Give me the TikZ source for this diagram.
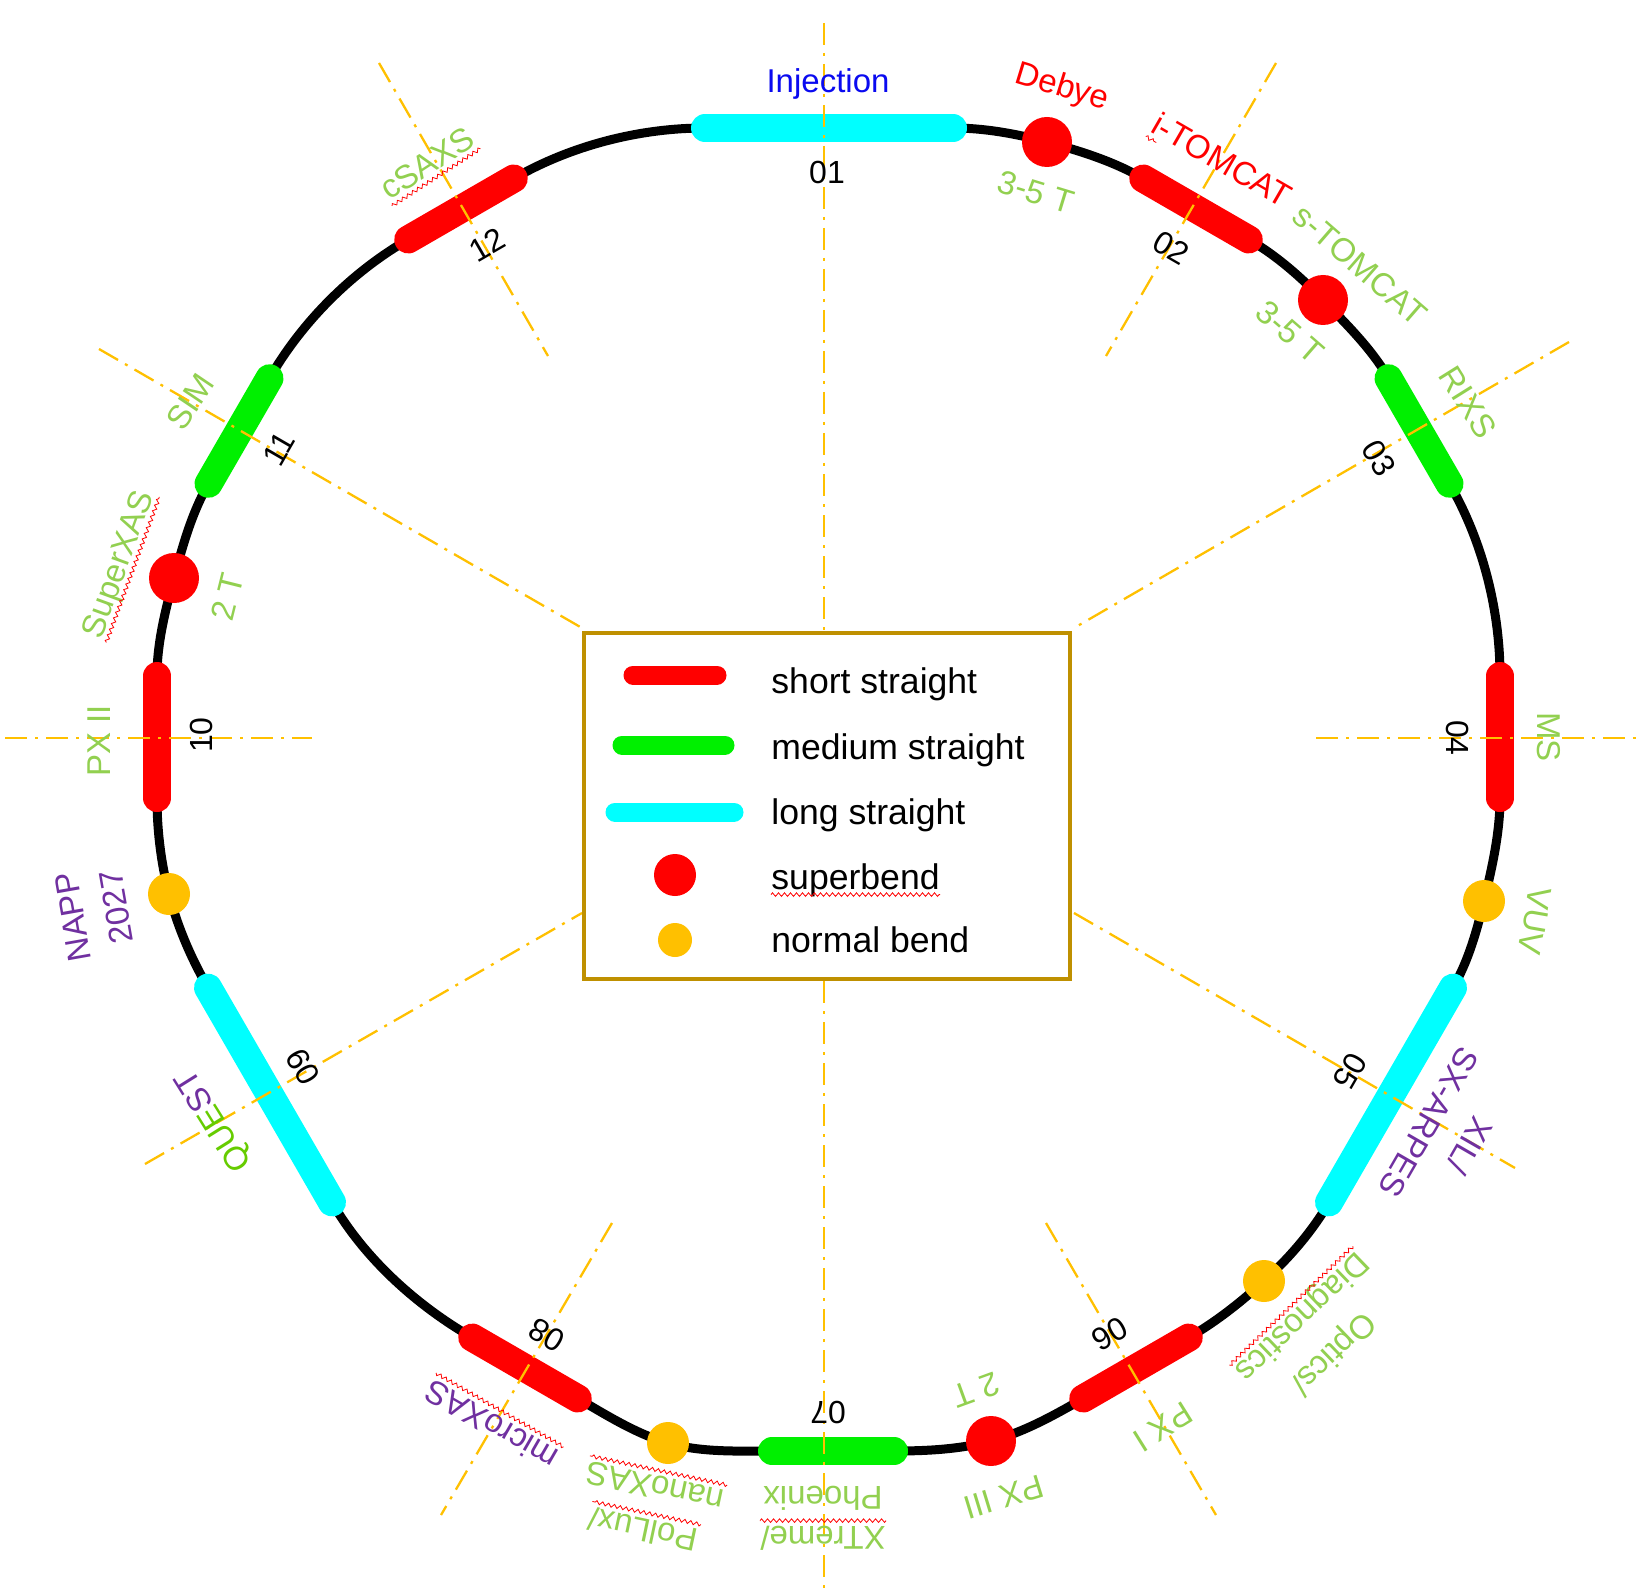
\documentclass[tikz,border=0pt]{standalone}
\usepackage{fontspec}
\setmainfont{Liberation Sans}
\usetikzlibrary{calc,decorations.pathmorphing}
\definecolor{lgreen}{RGB}{146,208,80}
\definecolor{purp}{RGB}{112,48,160}
\definecolor{qgreen}{RGB}{102,204,0}
\definecolor{goldc}{RGB}{255,192,0}
\definecolor{dgold}{RGB}{191,144,0}
\definecolor{cyanc}{RGB}{0,255,255}
\definecolor{greenc}{RGB}{0,240,0}
\definecolor{injblue}{RGB}{10,10,240}
\newcommand\sqg[1]{\draw[squig] ($(#1.base west)!2.8pt!-90:(#1.base east)$) -- ($(#1.base east)!2.8pt!90:(#1.base west)$);}
\begin{document}
\begin{tikzpicture}[x=0.5pt,y=0.5pt,
  ring/.style={line width=4.5pt,black},
  sstr/.style={line width=14pt,line cap=round,red},
  mstr/.style={line width=14pt,line cap=round,greenc},
  lstr/.style={line width=14pt,line cap=round,cyanc},
  sbend/.style={circle,fill=red,inner sep=0pt,minimum size=25pt},
  nbend/.style={circle,fill=goldc,inner sep=0pt,minimum size=21pt},
  axisline/.style={goldc,line width=1.15pt,dash pattern=on 11pt off 4pt on 1.5pt off 4pt},
  lab/.style={inner sep=0pt,font=\fontsize{16.5}{20}\selectfont},
  num/.style={inner sep=0pt,font=\fontsize{16}{19}\selectfont},
  legtxt/.style={inner sep=0pt,anchor=base west,font=\fontsize{17.8}{21}\selectfont},
  squig/.style={red,line width=0.4pt,decorate,decoration={zigzag,amplitude=0.9pt,segment length=3pt}},
  looseness=0.85]
\useasboundingbox (0,0) rectangle (1642,-1588);
\fill[white] (0,0) rectangle (1642,-1588);
% straight section end points
\coordinate (B01) at (705,-128);     \coordinate (E01) at (953,-128);
\coordinate (B02) at (1143.2,-178.5); \coordinate (E02) at (1248.8,-239.5);
\coordinate (B03) at (1388.5,-378.2); \coordinate (E03) at (1449.5,-483.8);
\coordinate (B04) at (1500,-676);    \coordinate (E04) at (1500,-798);
\coordinate (B05) at (1453,-987.6);  \coordinate (E05) at (1329,-1202.4);
\coordinate (B06) at (1188.8,-1337.5); \coordinate (E06) at (1083.2,-1398.5);
\coordinate (B07) at (894,-1451);    \coordinate (E07) at (772,-1451);
\coordinate (B08) at (577.8,-1398.5); \coordinate (E08) at (472.2,-1337.5);
\coordinate (B09) at (332,-1202.4);  \coordinate (E09) at (208,-987.6);
\coordinate (B10) at (157,-798);     \coordinate (E10) at (157,-676);
\coordinate (B11) at (208.5,-483.8); \coordinate (E11) at (269.5,-378.2);
\coordinate (B12) at (408.2,-239.5); \coordinate (E12) at (513.8,-178.5);
% bend positions
\coordinate (d1) at (1047,-142);
\coordinate (d2) at (1323,-300);
\coordinate (d3) at (1484,-901);
\coordinate (d4) at (1264,-1281);
\coordinate (d5) at (991,-1441);
\coordinate (d6) at (668,-1443);
\coordinate (d7) at (169,-894);
\coordinate (d8) at (174,-578);
% ring
\draw[ring] (B01) -- (E01) to[out=0,in=165] (d1) to[out=-15,in=150] (B02) -- (E02)
 to[out=-30,in=134] (d2) to[out=-46,in=120] (B03) -- (E03)
 to[out=-60,in=90] (B04) -- (E04)
 to[out=-90,in=76.5] (d3) to[out=-103.5,in=60] (B05) -- (E05)
 to[out=-120,in=42.5] (d4) to[out=-137.5,in=30] (B06) -- (E06)
 to[out=-150,in=15] (d5) to[out=-165,in=0] (B07) -- (E07)
 to[out=180,in=-16] (d6) to[out=164,in=-30] (B08) -- (E08)
 to[out=150,in=-60] (B09) -- (E09)
 to[out=120,in=-75.5] (d7) to[out=104.5,in=-90] (B10) -- (E10)
 to[out=90,in=-105] (d8) to[out=75,in=-120] (B11) -- (E11)
 to[out=60,in=-150] (B12) -- (E12)
 to[out=30,in=180] (B01) -- cycle;
% straights
\draw[lstr] (B01) -- (E01);
\draw[sstr] (B02) -- (E02);
\draw[mstr] (B03) -- (E03);
\draw[sstr] (B04) -- (E04);
\draw[lstr] (B05) -- (E05);
\draw[sstr] (B06) -- (E06);
\draw[mstr] (B07) -- (E07);
\draw[sstr] (B08) -- (E08);
\draw[lstr] (B09) -- (E09);
\draw[sstr] (B10) -- (E10);
\draw[mstr] (B11) -- (E11);
\draw[sstr] (B12) -- (E12);
% bends
\node[sbend] (bDebye) at (d1) {};
\node[sbend] (bsTom) at (d2) {};
\node[nbend] (bVUV) at (d3) {};
\node[nbend] (bOpt) at (d4) {};
\node[sbend] (bPX3) at (d5) {};
\node[nbend] (bPol) at (d6) {};
\node[nbend] (bNAPP) at (d7) {};
\node[sbend] (bSXAS) at (d8) {};
% dash-dot axes
\draw[axisline] (824,-23) -- (824,-631);
\draw[axisline] (824,-981) -- (824,-1588);
\draw[axisline] (5,-738) -- (312,-738);
\draw[axisline] (1316,-738) -- (1642,-738);
\draw[axisline] (379,-63) -- (548,-356);
\draw[axisline] (1276,-63) -- (1106,-356);
\draw[axisline] (99,-349) -- (582,-628);
\draw[axisline] (1569,-342) -- (1074,-628);
\draw[axisline] (145,-1164) -- (582,-913);
\draw[axisline] (1074,-913) -- (1515,-1168);
\draw[axisline] (612,-1223) -- (441,-1515);
\draw[axisline] (1046,-1223) -- (1216,-1515);
% labels
\node[lab,injblue] (inj) at (828,-84) {Injection};
\node[num] (n01) at (827,-172) {01};
\node[lab,red,rotate=-17] (debye) at (1062,-88) {Debye};
\node[lab,lgreen,rotate=-17] (t1) at (1036,-192) {3-5 T};
\node[lab,red,rotate=-30] (itom) at (1222,-160) {i-TOMCAT};
\node[num,rotate=-30] (n02) at (1171,-248) {02};
\node[lab,lgreen,rotate=-41] (stom) at (1360,-265) {s-TOMCAT};
\node[lab,lgreen,rotate=-41] (t2) at (1290,-332) {3-5 T};
\node[lab,lgreen,rotate=-58] (rixs) at (1468,-402) {RIXS};
\node[num,rotate=-60] (n03) at (1379,-458) {03};
\node[lab,lgreen,rotate=-90] (ms) at (1549,-737) {MS};
\node[num,rotate=-90] (n04) at (1457,-738) {04};
\node[lab,lgreen,rotate=-100] (vuv) at (1535,-921) {VUV};
\node[num,rotate=-120] (n05) at (1350,-1071) {05};
\node[lab,purp,rotate=-120] (xil) at (1470,-1146) {XIL/};
\node[lab,purp,rotate=-120] (sxa) at (1429,-1122) {SX-ARPES};
\node[lab,lgreen,rotate=-136] (diag) at (1301,-1316) {Diagnostics};
\node[lab,lgreen,rotate=-136] (opt) at (1332,-1352) {Optics/};
\node[num,rotate=-150] (n06) at (1110,-1334) {06};
\node[lab,lgreen,rotate=-148] (px1) at (1163,-1427) {PX I};
\node[lab,lgreen,rotate=-160] (t3) at (976,-1390) {2 T};
\node[lab,lgreen,rotate=-163] (px3) at (1004,-1497) {PX III};
\node[num,rotate=180] (n07) at (828,-1413) {07};
\node[lab,lgreen,rotate=180] (phx) at (823,-1498) {Phoenix};
\node[lab,lgreen,rotate=180] (xtr) at (823,-1538) {XTreme/};
\node[lab,lgreen,rotate=168] (nano) at (655,-1487) {nanoXAS};
\node[lab,lgreen,rotate=168] (pollux) at (643,-1530) {PolLux/};
\node[num,rotate=150] (n08) at (547,-1335) {08};
\node[lab,purp,rotate=150] (micro) at (491,-1425) {microXAS};
\node[num,rotate=120] (n09) at (303,-1067) {09};
\node[lab,rotate=122] (quest) at (215,-1120) {\textcolor{qgreen}{QUE}\textcolor{purp}{ST}};
\node[lab,purp,rotate=100] (napp) at (73,-917) {NAPP};
\node[lab,purp,rotate=100] (y2027) at (116,-907) {2027};
\node[num,rotate=90] (n10) at (201,-735) {10};
\node[lab,lgreen,rotate=90] (px2) at (99,-741) {PX II};
\node[lab,lgreen,rotate=76] (t4) at (227,-597) {2 T};
\node[lab,lgreen,rotate=70] (sxas) at (120,-565) {SuperXAS};
\node[lab,lgreen,rotate=56] (sim) at (190,-402) {SIM};
\node[num,rotate=60] (n11) at (279,-449) {11};
\node[lab,lgreen,rotate=33] (csaxs) at (427,-163) {cSAXS};
\node[num,rotate=30] (n12) at (487,-245) {12};
% spell-check squiggles
\sqg{csaxs} \sqg{sxas} \sqg{micro} \sqg{nano} \sqg{pollux} \sqg{diag} \sqg{xtr}
\coordinate (iqa) at ($(itom.base west)!6pt!(itom.base east)$);
\draw[squig] ($(itom.base west)!3pt!-90:(itom.base east)$) -- ($(iqa)!3pt!-90:(itom.base east)$);
% legend
\node[draw=dgold,line width=2pt,fill=white,inner sep=0pt,minimum width=243pt,minimum height=173pt] (legend) at (827,-806) {};
\draw[sstr,line width=9.5pt] (633,-675) -- (717,-675);
\draw[mstr,line width=9.5pt] (622,-745) -- (725,-745);
\draw[lstr,line width=9.5pt] (615,-812) -- (734,-812);
\node[sbend,minimum size=21pt] (lsb) at (675,-875) {};
\node[nbend,minimum size=17pt] (lnb) at (675,-940) {};
\node[legtxt] (lt1) at (771,-693) {short straight};
\node[legtxt] (lt2) at (771,-759) {medium straight};
\node[legtxt] (lt3) at (771,-824) {long straight};
\node[legtxt] (lt4) at (771,-889) {superbend};
\node[legtxt] (lt5) at (771,-952) {normal bend};
\sqg{lt4}
\end{tikzpicture}
\end{document}
